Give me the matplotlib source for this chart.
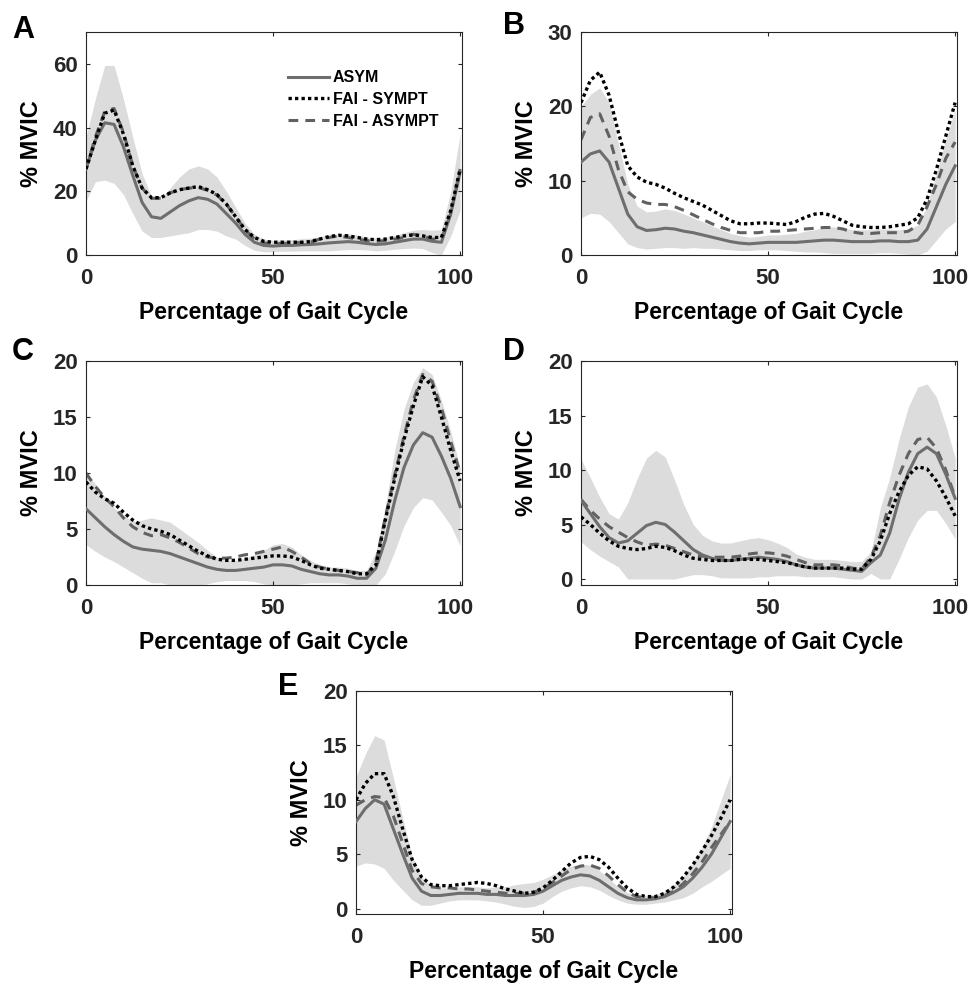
"""EMG envelopes (% MVIC) over the gait cycle, five muscles, three groups."""

import numpy as np
import matplotlib
matplotlib.use("Agg")
import matplotlib.pyplot as plt
from matplotlib.transforms import ScaledTranslation

plt.rcParams["font.family"] = ["Liberation Sans", "DejaVu Sans"]
plt.rcParams["font.weight"] = "bold"
plt.rcParams["axes.labelweight"] = "bold"

# sample points along the gait cycle (%)
GAIT_PCT = [0, 2.5, 5, 7.5, 10, 12.5, 15, 17.5, 20, 22.5, 25, 27.5, 30, 32.5, 35,
            37.5, 40, 42.5, 45, 47.5, 50, 52.5, 55, 57.5, 60, 62.5, 65, 67.5, 70,
            72.5, 75, 77.5, 80, 82.5, 85, 87.5, 90, 92.5, 95, 97.5, 100]

GROUPS = ["ASYM", "FAI - SYMPT", "FAI - ASYMPT"]
PANELS = ["A", "B", "C", "D", "E"]
X_TICKS = [0, 50, 100]
Y_TICKS = {"A": [0, 20, 40, 60], "B": [0, 10, 20, 30],
           "C": [0, 5, 10, 15, 20], "D": [0, 5, 10, 15, 20], "E": [0, 5, 10, 15, 20]}

# panel A
A_ASYM = [27, 36, 41.5, 41, 34, 25, 16.5, 12, 11.5, 13.5, 15.5, 17, 18, 17.5, 16, 13, 10,
          6.5, 4, 3, 2.8, 3, 3, 3.2, 3.3, 3.5, 3.8, 4, 4.2, 4, 3.6, 3.3, 3.5, 4, 4.5, 5, 5,
          4.3, 4, 13, 26]
A_SYMPT = [27, 36, 44.5, 45.5, 38, 28, 21, 18, 18, 19.5, 20.5, 21, 21.5, 20.5, 19, 16, 12,
           8, 5.5, 4.3, 4, 4, 4, 4, 4.2, 5, 5.8, 6.2, 6, 5.5, 5, 4.8, 5, 5.5, 6, 6.3, 6,
           5.5, 5.5, 14, 27]
A_ASYMPT = [27, 37, 45, 46, 38.5, 28, 21, 17.8, 17.8, 19.5, 20.5, 21, 21.2, 20.3, 18.8, 16,
            12, 8, 5, 3.8, 3.5, 3.6, 3.8, 3.9, 4, 5, 5.5, 6, 5.5, 5, 4.5, 4.3, 4.5, 5, 5.5,
            6.5, 6, 5, 5, 13, 27]
A_SD = [10, 13, 18, 18.5, 15, 12, 9, 6.5, 6, 7.5, 9, 10, 10, 9.5, 8.5, 7, 5, 3.5, 2.5, 2,
        1.8, 1.8, 1.8, 1.9, 2, 2.2, 2.5, 2.5, 2.5, 2.3, 2, 2, 2, 2.2, 2.5, 2.8, 3, 3.5, 4,
        7, 12]

# panel B
B_ASYM = [12.5, 13.6, 14, 12.5, 9, 5.5, 3.8, 3.3, 3.4, 3.6, 3.5, 3.2, 3, 2.7, 2.4, 2.1,
          1.8, 1.6, 1.5, 1.6, 1.7, 1.7, 1.7, 1.7, 1.8, 1.9, 2, 2, 1.9, 1.8, 1.8, 1.8, 1.9,
          1.9, 1.8, 1.8, 2, 3.5, 6.5, 9.5, 12]
B_SYMPT = [20.5, 23.5, 24.6, 21.5, 16.5, 12, 10.5, 9.8, 9.5, 9, 8.3, 7.7, 7.2, 6.7, 6, 5.3,
           4.6, 4.2, 4.2, 4.3, 4.3, 4.2, 4.1, 4.5, 5.1, 5.5, 5.6, 5.2, 4.6, 4, 3.8, 3.7,
           3.7, 3.8, 4, 4.2, 5, 7.5, 11.5, 16, 20.5]
B_ASYMPT = [15.5, 18.5, 19, 16, 11.5, 8.5, 7.5, 7, 6.8, 6.8, 6.5, 6, 5.4, 4.8, 4.2, 3.7,
            3.3, 3, 3, 3, 3.2, 3.2, 3.3, 3.4, 3.5, 3.6, 3.7, 3.7, 3.5, 3.1, 2.9, 2.9, 3, 3,
            3, 3.2, 4, 6.5, 9.5, 13, 15.2]
B_SD = [7.5, 8, 8.5, 8, 6, 4, 2.8, 2.5, 2.5, 2.6, 2.5, 2.3, 2, 1.8, 1.5, 1.3, 1.1, 1, 0.9,
        0.9, 1, 1, 1.1, 1.2, 1.4, 1.5, 1.7, 1.8, 1.7, 1.6, 1.6, 1.6, 1.6, 1.6, 1.6, 1.7, 2,
        3, 4.5, 6, 7.5]

# panel C
C_ASYM = [6.8, 6, 5.2, 4.5, 3.9, 3.4, 3.2, 3.1, 3, 2.8, 2.5, 2.2, 1.9, 1.6, 1.4, 1.3, 1.3,
          1.4, 1.5, 1.6, 1.8, 1.8, 1.7, 1.4, 1.2, 1, 0.9, 0.9, 0.8, 0.6, 0.6, 1.5, 4, 7.5,
          10.5, 12.5, 13.6, 13.2, 11.5, 9.5, 7]
C_SYMPT = [9.2, 8.3, 7.7, 7.3, 6.5, 5.8, 5.3, 5, 4.8, 4.5, 4, 3.5, 3, 2.6, 2.3, 2.2, 2.2,
           2.3, 2.4, 2.5, 2.6, 2.6, 2.5, 2.2, 1.8, 1.5, 1.4, 1.3, 1.2, 1, 1, 1.8, 5.8, 9.5,
           13, 16, 18.6, 17.8, 15, 12, 9.3]
C_ASYMPT = [10, 8.8, 7.8, 7, 6, 5.2, 4.7, 4.4, 4.5, 4.2, 3.8, 3.3, 2.8, 2.5, 2.4, 2.4, 2.5,
            2.7, 2.8, 3, 3.2, 3.4, 3, 2.5, 1.9, 1.6, 1.4, 1.3, 1.2, 1.1, 0.9, 2, 6, 9.8,
            13.3, 16.5, 18.8, 18.2, 15.8, 12.8, 10]
C_SD = [3.2, 3, 2.7, 2.4, 2.3, 2.3, 2.6, 2.9, 2.8, 2.8, 2.5, 2.2, 1.9, 1.5, 1.1, 0.9, 0.9,
        1, 1.2, 1.5, 1.8, 1.9, 1.7, 1.3, 1, 0.8, 0.7, 0.7, 0.7, 0.7, 0.7, 1.5, 3, 4.5, 5.2,
        5.6, 5.8, 5.6, 5, 4.2, 3.5]

# panel D
D_ASYM = [7.2, 6, 4.8, 3.8, 3.3, 3.5, 4.2, 4.9, 5.2, 5, 4.3, 3.5, 2.7, 2.2, 1.9, 1.7, 1.7,
          1.8, 1.9, 2, 1.9, 1.8, 1.6, 1.3, 1.1, 1, 1, 1, 0.9, 0.8, 0.7, 1.5, 2.2, 4.2, 7.3,
          9.8, 11.5, 12.1, 11.5, 9.6, 7.4]
D_SYMPT = [5.7, 5, 4.2, 3.5, 3, 2.8, 2.7, 2.8, 3, 2.9, 2.6, 2.2, 1.9, 1.8, 1.7, 1.7, 1.7,
           1.8, 1.8, 1.8, 1.7, 1.6, 1.5, 1.3, 1.1, 1, 1, 1, 1, 0.9, 0.9, 1.8, 3.5, 6, 8,
           9.5, 10.3, 10.1, 9, 7.5, 5.8]
D_ASYMPT = [7.3, 6.3, 5.5, 4.8, 4.3, 3.8, 3.4, 3.1, 3.2, 3.1, 2.8, 2.5, 2.2, 2.1, 2, 2, 2,
            2.1, 2.3, 2.4, 2.4, 2.3, 2.1, 1.8, 1.5, 1.3, 1.3, 1.3, 1.2, 1, 0.9, 2, 4, 7,
            9.5, 11.5, 12.8, 13, 12, 10, 7.5]
D_SD = [3.8, 3.3, 2.7, 2.2, 2.2, 3.5, 5, 6.2, 6.6, 6.2, 4.8, 3.3, 2.3, 1.8, 1.6, 1.6, 1.6,
        1.7, 1.8, 1.8, 1.7, 1.5, 1.3, 1, 0.9, 0.8, 0.8, 0.8, 0.8, 0.8, 0.9, 1, 4.3, 5.1,
        5.5, 6, 6.1, 5.8, 5.2, 4.5, 3.7]

# panel E
E_ASYM = [8, 9.2, 10, 9.6, 7.3, 5, 2.8, 1.6, 1.2, 1.2, 1.3, 1.4, 1.4, 1.4, 1.3, 1.3, 1.2,
          1.2, 1.2, 1.3, 1.6, 2.1, 2.6, 2.9, 3.1, 3, 2.6, 2, 1.4, 1, 0.8, 0.8, 0.9, 1.1,
          1.5, 2, 2.8, 3.8, 5, 6.5, 8]
E_SYMPT = [10, 11.5, 12.4, 12.4, 10.3, 7.3, 4.5, 2.9, 2.2, 2.1, 2.1, 2.2, 2.3, 2.4, 2.3,
           2.1, 1.8, 1.6, 1.4, 1.5, 1.9, 2.6, 3.4, 4.2, 4.7, 4.8, 4.5, 3.8, 2.8, 1.9, 1.3,
           1.1, 1.1, 1.4, 2, 2.9, 4, 5.3, 6.7, 8.3, 10]
E_ASYMPT = [9.5, 10, 10.3, 10.2, 8.5, 6, 3.5, 2.3, 2, 1.9, 1.9, 1.8, 1.8, 1.7, 1.6, 1.5,
            1.4, 1.4, 1.4, 1.5, 1.8, 2.4, 3, 3.6, 3.9, 4, 3.7, 3, 2.2, 1.5, 1.1, 1, 1, 1.2,
            1.6, 2.3, 3.2, 4.3, 5.6, 6.8, 8]
E_SD = [4.1, 5, 5.9, 5.9, 4.7, 3.3, 2, 1.3, 0.9, 0.7, 0.6, 0.6, 0.6, 0.6, 0.6, 0.7, 0.8, 1,
        1.1, 1.1, 1.1, 1, 1, 1, 1, 1, 0.9, 0.8, 0.6, 0.5, 0.4, 0.4, 0.4, 0.5, 0.7, 1, 1.4,
        1.8, 2.5, 3.4, 4.3]

PANEL_DATA = {
    "A": (A_ASYM, A_SYMPT, A_ASYMPT, A_SD),
    "B": (B_ASYM, B_SYMPT, B_ASYMPT, B_SD),
    "C": (C_ASYM, C_SYMPT, C_ASYMPT, C_SD),
    "D": (D_ASYM, D_SYMPT, D_ASYMPT, D_SD),
    "E": (E_ASYM, E_SYMPT, E_ASYMPT, E_SD),
}

FIG_W, FIG_H = 971, 988
# axes boxes in pixels: left, top, right, bottom
AX_BOX = {
    "A": (86, 32, 462, 255),
    "B": (581, 32, 957, 255),
    "C": (86, 361, 462, 585),
    "D": (581, 361, 957, 585),
    "E": (356, 691, 732, 914),
}
Y_LIM = {"A": (0, 70), "B": (0, 30), "C": (0, 20), "D": (-0.55, 20), "E": (-0.5, 20)}
LETTER_POS = {"A": (12, 15), "B": (503, 11), "C": (12, 337), "D": (503, 337), "E": (278, 672)}

FILL_COLOR = "#dcdcdc"
ASYM_COLOR = "#6e6e6e"
ASYMPT_COLOR = "#616161"


def draw_panel(fig, key):
    left, top, right, bottom = AX_BOX[key]
    ax = fig.add_axes([left / FIG_W, 1 - bottom / FIG_H,
                       (right - left) / FIG_W, (bottom - top) / FIG_H])
    asym, sympt, asympt, sd = (np.asarray(v, dtype=float) for v in PANEL_DATA[key])
    x = np.asarray(GAIT_PCT)

    # ASYM mean +/- SD band, clipped at zero
    ax.fill_between(x, np.clip(asym - sd, 0, None), asym + sd,
                    color=FILL_COLOR, linewidth=0, zorder=1)
    ax.plot(x, asym, color=ASYM_COLOR, lw=2.2, label=GROUPS[0], zorder=3)
    ax.plot(x, sympt, color="black", lw=2.4, dashes=(1.0, 0.95), label=GROUPS[1], zorder=4)
    ax.plot(x, asympt, color=ASYMPT_COLOR, lw=2.2, dashes=(3.2, 2.3), label=GROUPS[2], zorder=2)

    ax.set_xlim(0, 100.5)
    ax.set_ylim(*Y_LIM[key])
    ax.set_xticks(X_TICKS)
    ax.set_yticks(Y_TICKS[key])
    ax.tick_params(direction="in", top=True, right=True, length=3, width=0.8,
                   labelsize=16, colors="#262626")
    ax.tick_params(axis="x", pad=9)
    ax.tick_params(axis="y", pad=6)
    for sp in ax.spines.values():
        sp.set_linewidth(0.8)
        sp.set_color("#262626")

    # the "100" label sits a little left of its tick, as in the source figure
    last = ax.get_xticklabels()[-1]
    last.set_transform(last.get_transform() + ScaledTranslation(-5 / 100, 0, fig.dpi_scale_trans))

    ax.set_xlabel("Percentage of Gait Cycle", fontsize=16.5, va="center")
    ax.xaxis.set_label_coords(0.5, -0.257)
    ax.set_ylabel("% MVIC", fontsize=17, va="center")
    ax.yaxis.set_label_coords(-0.145, 0.5)

    lx, ly = LETTER_POS[key]
    fig.text(lx / FIG_W, 1 - ly / FIG_H, key, fontsize=22, fontweight="bold",
             ha="left", va="top")
    return ax


def main():
    fig = plt.figure(figsize=(FIG_W / 100, FIG_H / 100), dpi=100)
    axes = {key: draw_panel(fig, key) for key in PANELS}

    leg = axes["A"].legend(loc="upper left", bbox_to_anchor=(0.537, 0.828),
                           frameon=False, fontsize=11.5, handlelength=2.6,
                           handletextpad=0.2, labelspacing=0.42,
                           borderpad=0, borderaxespad=0)
    for txt in leg.get_texts():
        txt.set_fontweight("bold")

    fig.savefig("out.png", dpi=100)
    plt.close(fig)


if __name__ == "__main__":
    main()
